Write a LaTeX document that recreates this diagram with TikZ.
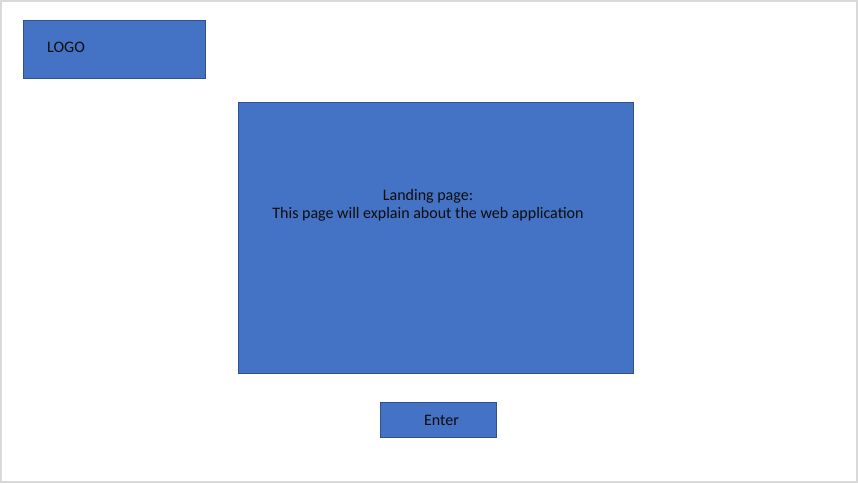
\documentclass[tikz,border=0pt]{standalone}
\usepackage{fontspec}
\setmainfont{Carlito}
\definecolor{boxfill}{HTML}{4472C4}
\definecolor{boxline}{HTML}{2F528F}
\definecolor{frameline}{HTML}{D9D9D9}
\definecolor{labeltext}{HTML}{0D0D0D}
\begin{document}
\begin{tikzpicture}[x=1pt,y=-1pt,
  panel/.style={draw=boxline,fill=boxfill,line width=0.8pt},
  label/.style={text=labeltext,font=\fontsize{16}{18}\selectfont,inner sep=0pt}]
  \useasboundingbox (0,0) rectangle (858,483);
  % page frame
  \draw[frameline,line width=2pt] (1,1) rectangle (857,482);
  % logo placeholder
  \draw[panel] (23,20) rectangle (205,78);
  \node[label,anchor=west] (logo) at (47,47) {LOGO};
  % main content area
  \draw[panel] (238,102) rectangle (633,373);
  \node[label,align=center] (landing) at (428,205.5) {Landing page:\\This page will explain about the web application};
  % enter button
  \draw[panel] (380,402) rectangle (496,437);
  \node[label] (enter) at (441.5,420) {Enter};
\end{tikzpicture}
\end{document}
